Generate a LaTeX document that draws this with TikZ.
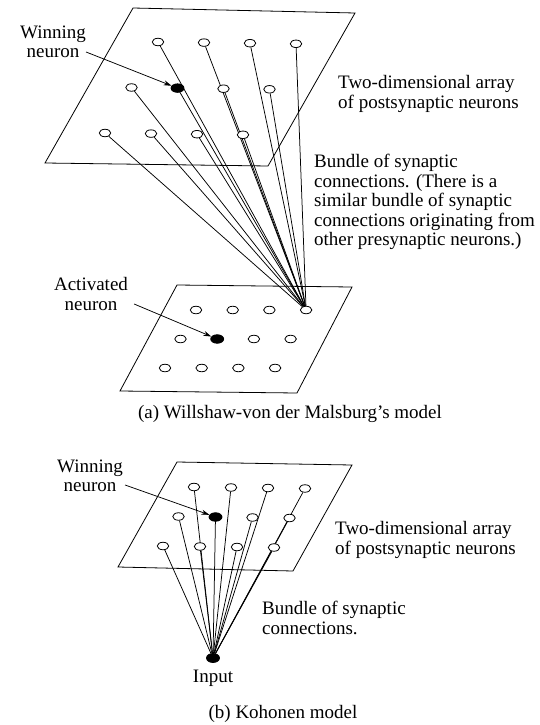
\documentclass[tikz,border=0pt]{standalone}
\usepackage{fontspec}
\setmainfont{Liberation Serif}
\usetikzlibrary{arrows.meta,positioning,shapes.geometric,backgrounds}

\begin{document}
\begin{tikzpicture}[x=1pt,y=-1pt,>={Stealth[length=8pt,width=5pt]},
  cell/.style={ellipse,draw,fill=white,line width=0.8pt,inner sep=0pt,minimum width=11.5pt,minimum height=7.5pt},
  hot/.style={cell,fill=black,minimum width=13pt,minimum height=8.5pt},
  txt/.style={font=\fontsize{19}{19.5}\selectfont,inner sep=0pt},
  wire/.style={line width=0.75pt},
  sheet/.style={line width=0.8pt}]
  \useasboundingbox (0,0) rectangle (539,725);
  \begin{scope}
    \foreach \i in {1,2,3} \foreach \j in {1,2,3,4} \node[cell] (up-\i-\j) at ({158+46*(\j-1)-26.5*(\i-1)},{42+45.5*(\i-1)+0.6*(\j-1)}) {};
    \foreach \i in {1,2,3} \foreach \j in {1,2,3,4} \node[cell] (lo-\i-\j) at ({196+36.7*(\j-1)-15.5*(\i-1)},{310+29*(\i-1)}) {};
    \node[hot] (win-a) at (up-2-2) {};
    \node[hot] (act-a) at (lo-2-2) {};
    \begin{pgfonlayer}{background}
      \draw[sheet] (133,8) -- (355,13) -- (268,166) -- (45,163) -- cycle;
      \draw[sheet] (177,285) -- (352,287) -- (297,393) -- (120,391) -- cycle;
      \foreach \i in {1,2,3} \foreach \j in {1,2,3,4} \draw[wire] (up-\i-\j) -- (lo-1-4);
    \end{pgfonlayer}
    \node[txt,align=center] (lab-win-a) at (53,42) {Winning\\neuron};
    \draw[->,wire] ([yshift=-10pt]lab-win-a.east) -- (win-a);
    \node[txt,align=left,anchor=west] (lab-array-a) at (338,94) {Two-dimensional array\\of postsynaptic neurons};
    \node[txt,align=left,anchor=west] (lab-bundle-a) at (314,202) {Bundle of synaptic\\connections. (There is a\\similar bundle of synaptic\\connections originating from\\other presynaptic neurons.)};
    \node[txt,align=center] (lab-act-a) at (91,294) {Activated\\neuron};
    \draw[->,wire] ([yshift=-10pt,xshift=6pt]lab-act-a.east) -- (act-a);
    \node[txt] (cap-a) at (290,414) {(a) Willshaw-von der Malsburg's model};
  \end{scope}
  \begin{scope}
    \foreach \i in {1,2,3} \foreach \j in {1,2,3,4} \node[cell] (kb-\i-\j) at ({194+37*(\j-1)-15.5*(\i-1)},{487+29.5*(\i-1)+0.5*(\j-1)}) {};
    \node[hot] (win-b) at (kb-2-2) {};
    \node[hot,minimum height=9pt] (in-b) at (213,658) {};
    \begin{pgfonlayer}{background}
      \draw[sheet] (177,462) -- (352,465) -- (293,571) -- (118,567) -- cycle;
      \foreach \i in {1,2,3} \foreach \j in {1,2,3,4} \draw[wire] (kb-\i-\j) -- (in-b);
    \end{pgfonlayer}
    \node[txt,below=7pt of in-b] (lab-in-b) {Input};
    \node[txt,align=center] (lab-win-b) at (90,476) {Winning\\neuron};
    \draw[->,wire] ([yshift=-9pt,xshift=2pt]lab-win-b.east) -- (win-b);
    \node[txt,align=left,anchor=west] (lab-array-b) at (335,540) {Two-dimensional array\\of postsynaptic neurons};
    \node[txt,align=left,anchor=west] (lab-bundle-b) at (262,618) {Bundle of synaptic\\connections.};
    \node[txt] (cap-b) at (283,714) {(b) Kohonen model};
  \end{scope}
\end{tikzpicture}
\end{document}
